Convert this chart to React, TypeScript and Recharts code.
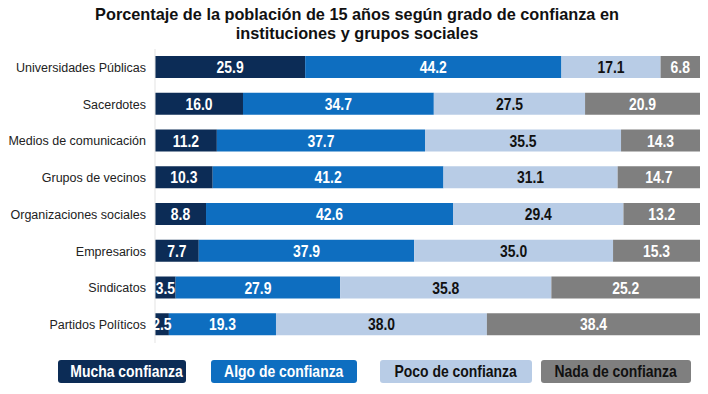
import { BarChart, Bar, XAxis, YAxis, LabelList } from "recharts";

const categories = [
  "Universidades Públicas",
  "Sacerdotes",
  "Medios de comunicación",
  "Grupos de vecinos",
  "Organizaciones sociales",
  "Empresarios",
  "Sindicatos",
  "Partidos Políticos",
];
const mucha = [25.9, 16.0, 11.2, 10.3, 8.8, 7.7, 3.5, 2.5];
const algo = [44.2, 34.7, 37.7, 41.2, 42.6, 37.9, 27.9, 19.3];
const poco = [17.1, 27.5, 35.5, 31.1, 29.4, 35.0, 35.8, 38.0];
const nada = [6.8, 20.9, 14.3, 14.7, 13.2, 15.3, 25.2, 38.4];

const series = [
  { key: "mucha", name: "Mucha confianza", color: "#0c2c56", text: "#ffffff", legend: "#ffffff" },
  { key: "algo", name: "Algo de confianza", color: "#0e6ec0", text: "#ffffff", legend: "#ffffff" },
  { key: "poco", name: "Poco de confianza", color: "#b8cce6", text: "#111111", legend: "#111111" },
  { key: "nada", name: "Nada de confianza", color: "#7f7f7f", text: "#ffffff", legend: "#111111" },
];

const data = categories.map((c, i) => ({
  name: c,
  mucha: mucha[i],
  algo: algo[i],
  poco: poco[i],
  nada: nada[i],
}));

const arial = "'Liberation Sans', Arial, sans-serif";

const legendLeft = [58, 211, 380, 541];
const legendWidth = [128, 146, 152, 150];

function LegendBoxes() {
  return (
    <div style={{ position: "absolute", left: 0, top: 360, width: 708, height: 24 }}>
      {series.map((s, i) => (
        <div
          key={s.key}
          style={{
            position: "absolute",
            left: legendLeft[i],
            width: legendWidth[i],
            height: 23,
            top: 0,
            background: s.color,
            color: s.legend,
            borderRadius: 3,
            fontFamily: arial,
            fontWeight: 700,
            fontSize: 17,
            lineHeight: "23px",
            textAlign: "center",
            whiteSpace: "nowrap",
          }}
        >
          <span style={{ display: "inline-block", transform: "scaleX(0.82)" }}>{s.name}</span>
        </div>
      ))}
    </div>
  );
}

function CategoryTick(props: any) {
  const { x, y, payload } = props;
  return (
    <text x={x} y={y} dy={4.5} textAnchor="end" fill="#222" fontSize={12.5} fontFamily={arial}>
      {payload.value}
    </text>
  );
}

function makeLabel(color: string) {
  return (props: any) => {
    const { x, y, width, height, value } = props;
    const cx = Number(x) + Number(width) / 2;
    const cy = Number(y) + Number(height) / 2;
    return (
      <text
        transform={`translate(${cx},${cy}) scale(0.82,1)`}
        textAnchor="middle"
        dy={6}
        fill={color}
        fontFamily={arial}
        fontWeight={700}
        fontSize={17}
      >
        {Number(value).toFixed(1)}
      </text>
    );
  };
}

export default function App() {
  return (
    <div style={{ position: "absolute", left: 0, top: 0, width: 708, height: 394, background: "#fff" }}>
      <div
        style={{
          position: "absolute",
          left: 0,
          width: 714,
          top: 5,
          textAlign: "center",
          fontFamily: arial,
          fontWeight: 700,
          fontSize: 16.3,
          lineHeight: "19px",
          color: "#111",
        }}
      >
        Porcentaje de la población de 15 años según grado de confianza en
        <br />
        instituciones y grupos sociales
      </div>
      <BarChart
        width={708}
        height={394}
        data={data}
        layout="vertical"
        stackOffset="expand"
        margin={{ top: 49, right: 8, bottom: 51, left: 8 }}
      >
        <XAxis type="number" hide domain={[0, 1]} />
        <YAxis
          type="category"
          dataKey="name"
          width={147}
          tickLine={false}
          axisLine={{ stroke: "#e3e3e3" }}
          tick={<CategoryTick />}
          tickMargin={3}
        />
        {series.map((s) => (
          <Bar key={s.key} dataKey={s.key} name={s.name} stackId="a" fill={s.color} barSize={22} isAnimationActive={false}>
            <LabelList dataKey={s.key} content={makeLabel(s.text)} />
          </Bar>
        ))}
      </BarChart>
      <LegendBoxes />
    </div>
  );
}
